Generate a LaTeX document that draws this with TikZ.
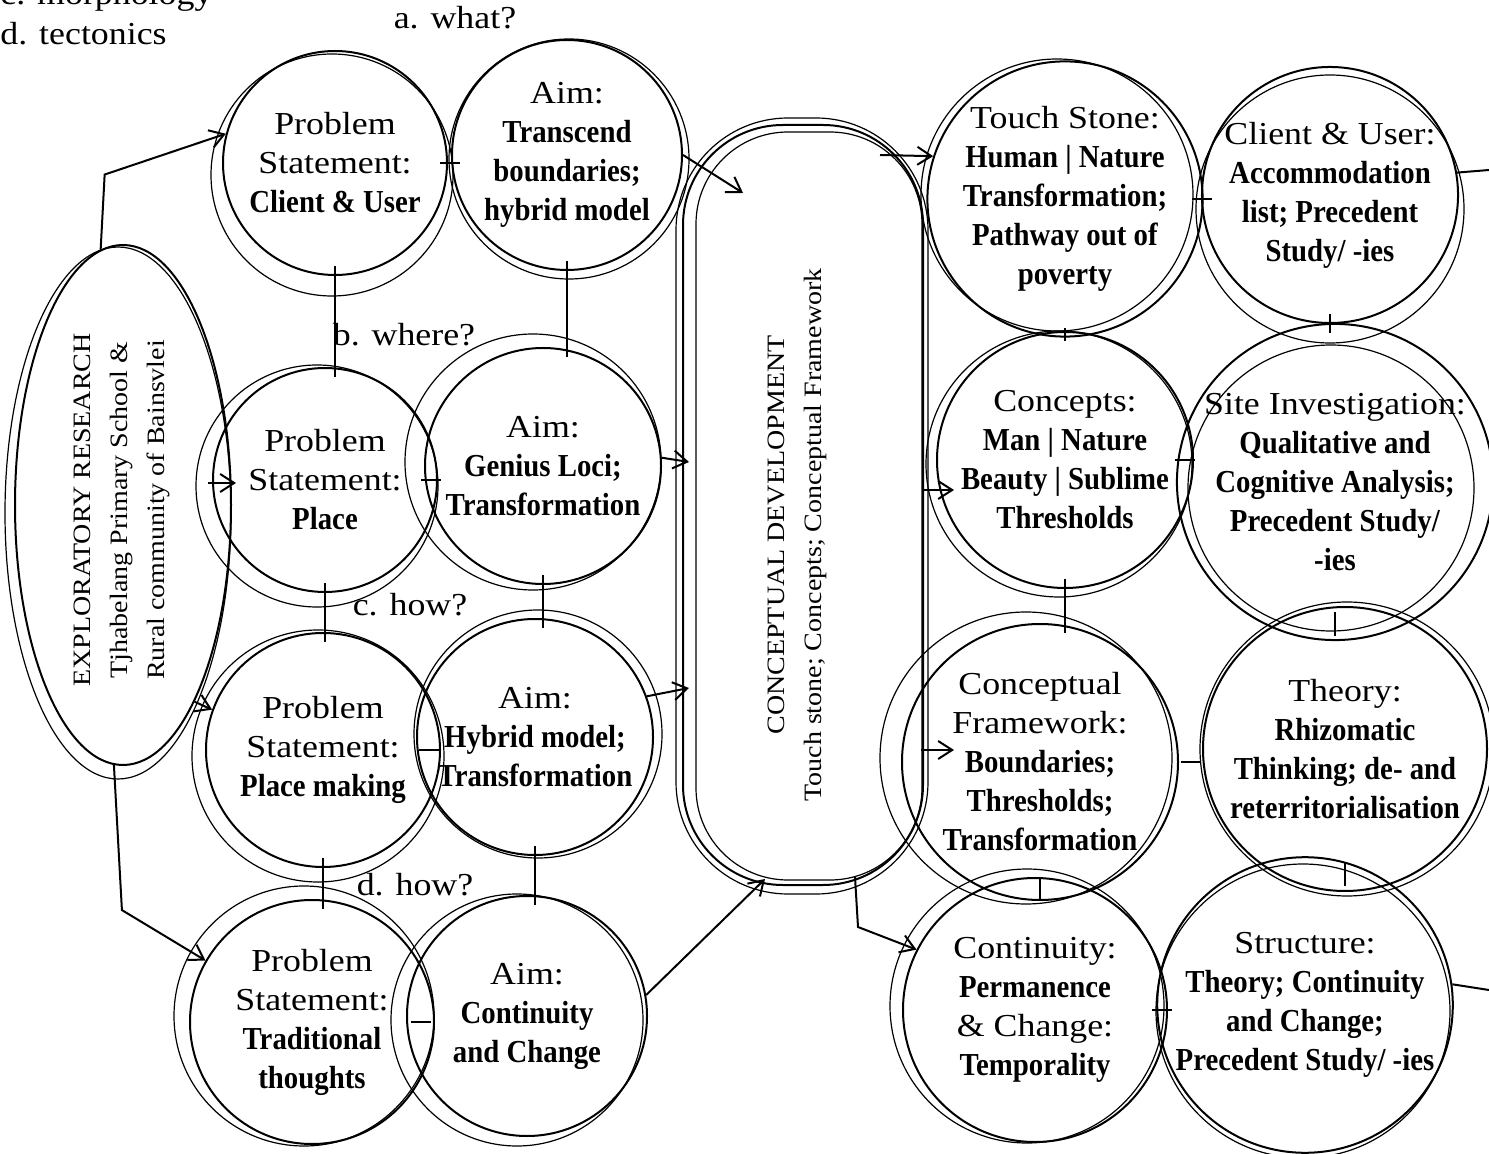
\documentclass[tikz,border=0pt]{standalone}
\usepackage{fontspec}
\setmainfont{Liberation Serif}[FakeStretch=1.12,BoldFeatures={FakeStretch=0.9}]
\usetikzlibrary{shapes.geometric,arrows.meta,calc}
\tikzset{
  bubble/.style={circle,draw,line width=1pt,inner sep=0pt,minimum size=#1,
    align=center,font=\fontsize{16}{19.5}\selectfont},
  pod/.style={ellipse,draw,line width=1pt,inner sep=0pt},
  capsule/.style={rectangle,rounded corners=50pt,draw,line width=1pt,inner sep=0pt},
  podtext/.style={rotate=90,align=center,font=\fontsize{12.5}{18.5}\selectfont},
  ring/.style={line width=0.6pt},
  tick/.style={line width=1pt},
  arr/.style={line width=1pt,-{Straight Barb[length=7pt,width=9pt]}},
  qlabel/.style={inner sep=0pt,font=\fontsize{16}{19.5}\selectfont}
}

\begin{document}
\begin{tikzpicture}[x=0.5pt,y=-0.5pt]
\useasboundingbox (0,0) rectangle (1489,1154);
\clip (0,0) rectangle (1489,1154);

% notes and questions
\node[qlabel,anchor=base west] (morph) at (0,5) {c. morphology};
\node[qlabel,anchor=base west] (tect) at (0,45) {d. tectonics};
\node[qlabel] (qa) at (455,18) {a. what?};
\node[qlabel] (qb) at (404,335) {b. where?};
\node[qlabel] (qc) at (410,605) {c. how?};
\node[qlabel] (qd) at (415,885) {d. how?};

% exploratory research
\node[pod,minimum width=108pt,minimum height=260pt] (er) at (123,505) {};
\node[podtext] (ertxt) at (122,510) {EXPLORATORY RESEARCH\\Tjhabelang Primary School \&\\Rural community of Bainsvlei};

% problem statements and aims
\node[bubble=112pt] (ps1) at (335,163) {Problem\\Statement:\\\textbf{Client \& User}};
\node[bubble=115pt] (aim1) at (567,155) {Aim:\\\textbf{Transcend}\\\textbf{boundaries;}\\\textbf{hybrid model}};
\node[bubble=112pt] (ps2) at (325,480) {Problem\\Statement:\\\textbf{Place}};
\node[bubble=118pt] (aim2) at (543,466) {Aim:\\\textbf{Genius Loci;}\\\textbf{Transformation}};
\node[bubble=117pt] (ps3) at (323,750) {Problem\\Statement:\\\textbf{Place making}};
\node[bubble=118pt] (aim3) at (535,737) {Aim:\\\textbf{Hybrid model;}\\\textbf{Transformation}};
\node[bubble=122pt] (ps4) at (312,1022) {Problem\\Statement:\\\textbf{Traditional}\\\textbf{thoughts}};
\node[bubble=120pt] (aim4) at (527,1016) {Aim:\\\textbf{Continuity}\\\textbf{and Change}};

% conceptual development
\node[capsule,minimum width=120pt,minimum height=380pt] (ce) at (803,505) {};
\node[podtext] (cetxt) at (797,535) {CONCEPTUAL DEVELOPMENT\\Touch stone; Concepts; Conceptual Framework};

% right hand side
\node[bubble=130pt] (ts) at (1065,199) {Touch Stone:\\\textbf{Human | Nature}\\\textbf{Transformation;}\\\textbf{Pathway out of}\\\textbf{poverty}};
\node[bubble=128pt] (cu) at (1330,195) {Client \& User:\\\textbf{Accommodation}\\\textbf{list; Precedent}\\\textbf{Study/ -ies}};
\node[bubble=128pt] (co) at (1065,460) {Concepts:\\\textbf{Man | Nature}\\\textbf{Beauty | Sublime}\\\textbf{Thresholds}};
\node[bubble=138pt] (si) at (1335,482) {Site Investigation:\\\textbf{Qualitative and}\\\textbf{Cognitive Analysis;}\\\textbf{Precedent Study/}\\\textbf{-ies}};
\node[bubble=138pt] (cf) at (1040,762) {Conceptual\\Framework:\\\textbf{Boundaries;}\\\textbf{Thresholds;}\\\textbf{Transformation}};
\node[bubble=142pt] (th) at (1345,749) {Theory:\\\textbf{Rhizomatic}\\\textbf{Thinking; de- and}\\\textbf{reterritorialisation}};
\node[bubble=132pt] (cn) at (1035,1010) {Continuity:\\\textbf{Permanence}\\\& Change:\\\textbf{Temporality}};
\node[bubble=140pt] (st) at (1305,1005) {Structure:\\\textbf{Theory; Continuity}\\\textbf{and Change;}\\\textbf{Precedent Study/ -ies}};

% second pencil rings
\foreach \n/\sx/\sy/\r in {ps1/-3/12/121,aim1/2/4/120,ps2/-8/6/121,aim2/-10/-4/128,
    ps3/-5/6/126,aim3/3/-3/124,ps4/-8/-6/130,aim4/-10/4/126,ts/-8/-4/136,cu/0/14/134,
    co/-6/4/133,si/-4/6/143,cf/-14/-4/146,th/2/0/147,cn/-8/-4/137,st/-2/6/147}
  \draw[ring] ([shift={(\sx,\sy)}]\n.center) circle (\r);
\draw[ring] ([shift={(-5,8)}]er.center) ellipse [x radius=113,y radius=266];
\draw[ring,rounded corners=46pt] ($(ce.north west)+(14,8)$) rectangle ($(ce.south east)+(-2,-6)$);
\draw[ring,rounded corners=56pt] ($(ce.north west)+(-6,-6)$) rectangle ($(ce.south east)+(4,8)$);

% links between neighbouring bubbles
\foreach \a/\b in {ps1/ps2,ps2/ps3,ps3/ps4,aim1/aim2,aim2/aim3,aim3/aim4,ts/co,co/cf,cu/si}
  \draw[tick] ([yshift=5pt]\a.south) -- ([yshift=-5pt]\a.south |- \b.north);
\foreach \a/\b in {cf/cn,si/th,th/st}{
  \coordinate (m) at ($(\a.south)!.5!(\a.south |- \b.north)$);
  \draw[tick] ([yshift=6pt]m) -- ([yshift=-6pt]m);
}
\foreach \a/\b in {ps1/aim1,ps2/aim2,ps3/aim3,ps4/aim4,ts/cu,co/si,cf/th,cn/st}{
  \coordinate (m) at ($(\a.east)!.5!(\b.west |- \a.east)$);
  \draw[tick] ([xshift=-5pt]m) -- ([xshift=5pt]m);
}
\coordinate (cuout) at (1489,170);
\coordinate (stout) at (1489,990);
\draw[tick] (cu.10) -- (cuout);
\draw[tick] (st.8) -- (stout);

% arrows
\draw[arr] (er.95) -- ++(4,-75) -- (ps1.165);
\draw[arr] ($(ps2.west)+(-4,3)$) -- ($(ps2.west)+(24,3)$);
\draw[arr] (er.290) -- (ps3.160);
\draw[arr] (er.268) -- ++(8,145) -- (ps4.150);
\draw[arr] (aim1.east) -- ($(ce.center)+(-60,-312)$);
\draw[arr] (aim2.4) -- ($(ce.center)+(-114,-43)$);
\draw[arr] (aim3.20) -- ($(ce.center)+(-114,183)$);
\draw[arr] (aim4.10) -- ($(ce.center)+(-38,374)$);
\draw[arr] ($(ce.center)+(77,-350)$) -- (ts.162);
\draw[arr] ($(ce.center)+(120,-15)$) -- ($(co.west)+(18,30)$);
\draw[arr] ($(ce.center)+(118,245)$) -- ($(cf.west)+(53,-12)$);
\draw[arr] ($(ce.center)+(52,372)$) -- ++(3,50) -- (cn.153);
\end{tikzpicture}
\end{document}
